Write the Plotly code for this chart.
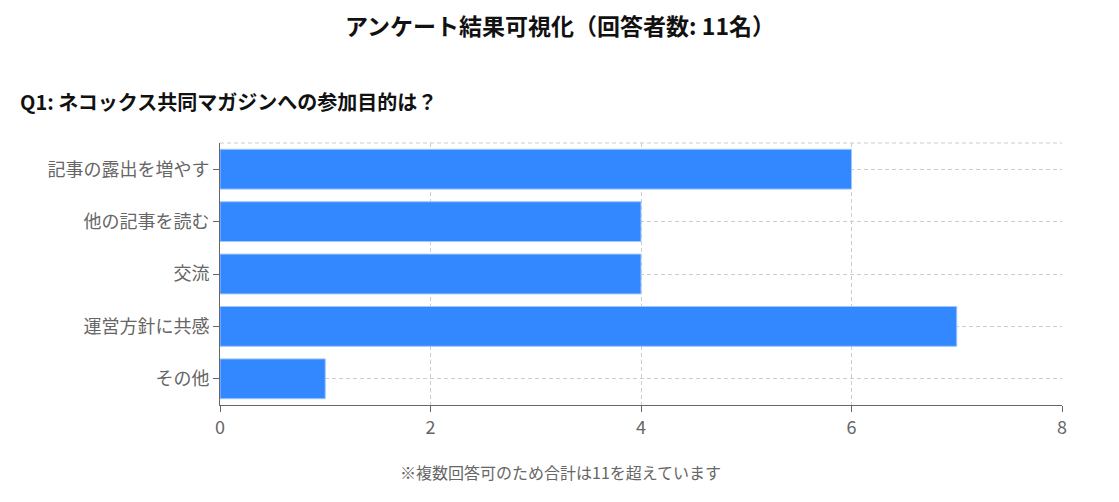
import plotly.graph_objects as go

categories = ["記事の露出を増やす", "他の記事を読む", "交流", "運営方針に共感", "その他"]
counts = [6, 4, 4, 7, 1]
x_ticks = [0, 2, 4, 6, 8]

title_text = "アンケート結果可視化（回答者数: 11名）"
question_text = "Q1: ネコックス共同マガジンへの参加目的は？"
note_text = "※複数回答可のため合計は11を超えています"

FONT = "Noto Sans CJK JP"
GRID = "#cccccc"
AXIS = "#666666"

# page body has an 8px margin, so the figure is sized/offset to compensate
W, H = 1111, 494
L, R, T, B = 212, 57, 135, 97
PW = W - L - R
PH = H - T - B

fig = go.Figure(
    go.Bar(
        x=counts,
        y=categories,
        orientation="h",
        marker=dict(color="#3388ff", line=dict(color="#9fc6ff", width=1)),
        hoverinfo="x+y",
    )
)

fig.update_layout(
    width=W,
    height=H,
    paper_bgcolor="white",
    plot_bgcolor="white",
    margin=dict(l=L, r=R, t=T, b=B),
    bargap=0.24,
    showlegend=False,
    font=dict(family=FONT, color=AXIS),
    title=dict(
        text=title_text,
        x=(560 - 8) / W,
        xanchor="center",
        y=1 - 19 / H,
        yanchor="middle",
        font=dict(family=FONT, size=23, color="#111111", weight="bold"),
    ),
    annotations=[
        dict(
            text=question_text,
            xref="paper", yref="paper",
            x=(18 - 8 - L) / PW, y=1 + (143 - 101) / PH,
            xanchor="left", yanchor="middle",
            showarrow=False,
            font=dict(family=FONT, size=20, color="#111111", weight="bold"),
        ),
        dict(
            text=note_text,
            xref="paper", yref="paper",
            x=(560 - 8 - L) / PW, y=-(472 - 405) / PH,
            xanchor="center", yanchor="middle",
            showarrow=False,
            font=dict(family=FONT, size=16, color=AXIS),
        ),
    ],
    shapes=[
        dict(type="line", xref="paper", yref="paper", x0=0, x1=1, y0=1, y1=1,
             line=dict(color=GRID, width=1, dash="4px,3px")),
    ],
)

fig.update_xaxes(
    range=[0, 8],
    tickvals=x_ticks,
    showgrid=True,
    gridcolor=GRID,
    griddash="4px,3px",
    zeroline=False,
    showline=True,
    linecolor=AXIS,
    linewidth=1,
    ticks="outside",
    ticklen=6,
    tickcolor=AXIS,
    tickfont=dict(family=FONT, size=18, color=AXIS),
)

fig.update_yaxes(
    autorange="reversed",
    showgrid=True,
    gridcolor=GRID,
    griddash="4px,3px",
    zeroline=False,
    showline=True,
    linecolor=AXIS,
    linewidth=1,
    ticks="outside",
    ticklen=6,
    tickcolor=AXIS,
    tickfont=dict(family=FONT, size=18, color=AXIS),
)

fig.write_html("out.html")
